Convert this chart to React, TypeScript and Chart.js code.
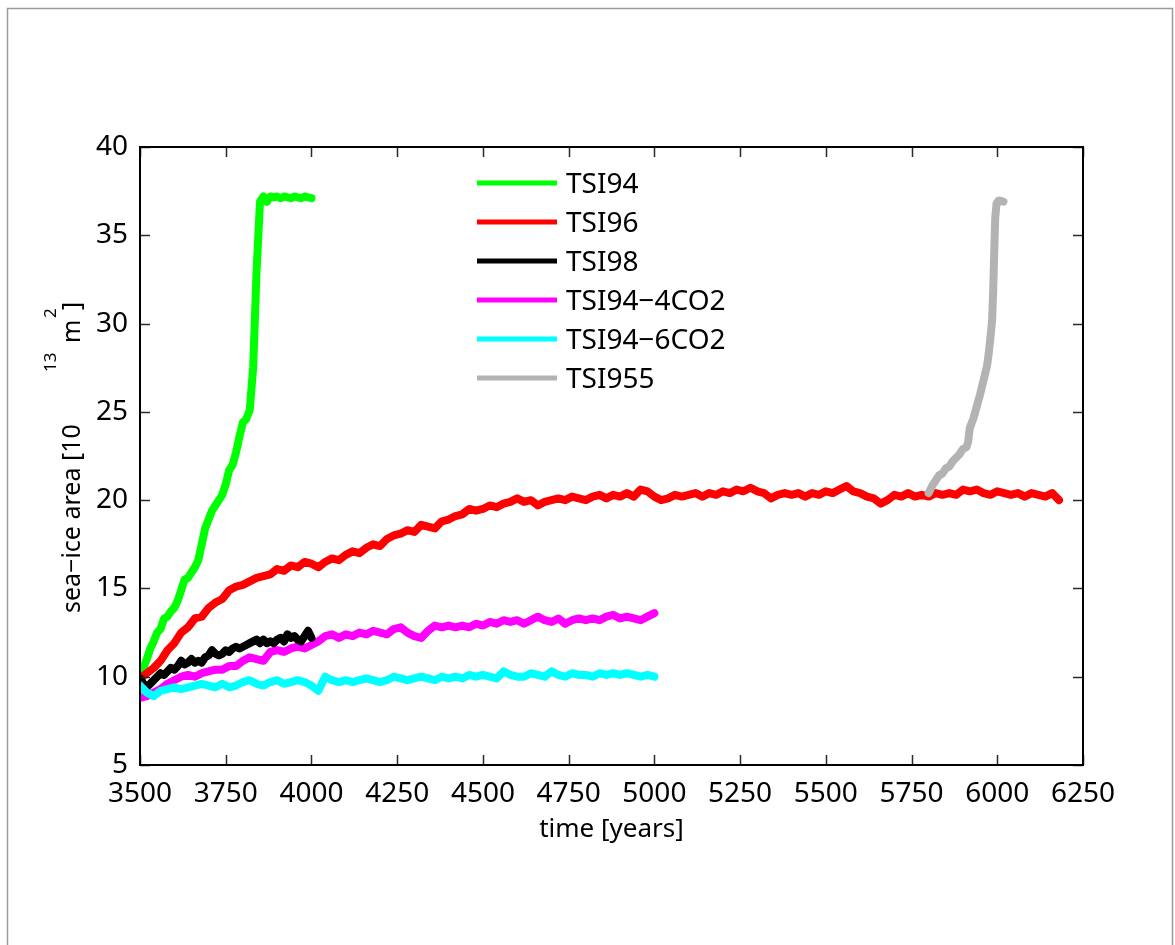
import React, { useEffect, useRef } from "react";
import { Chart, registerables } from "chart.js";

Chart.register(...registerables);

// ---------- data ----------
const X_TICKS = [3500, 3750, 4000, 4250, 4500, 4750, 5000, 5250, 5500, 5750, 6000, 6250];
const Y_TICKS = [5, 10, 15, 20, 25, 30, 35, 40];

const SERIES_NAMES = ["TSI94", "TSI96", "TSI98", "TSI94\u22124CO2", "TSI94\u22126CO2", "TSI955"];
const SERIES_COLORS = ["#00ff00", "#ff0000", "#000000", "#ff00ff", "#00ffff", "#b3b3b3"];

// TSI94: 3500..4000 every 10 years
const TSI94_START = 3500;
const TSI94_STEP = 10;
const TSI94_VALUES = [
  10.0, 10.5, 11.0, 11.6, 12.0, 12.5, 12.7, 13.3, 13.4, 13.7,
  13.9, 14.3, 14.9, 15.5, 15.6, 15.9, 16.2, 16.6, 17.5, 18.4,
  18.9, 19.4, 19.7, 20.0, 20.3, 20.9, 21.7, 22.0, 22.7, 23.6,
  24.4, 24.6, 25.1, 27.5, 33.0, 36.9, 37.2, 36.9, 37.2, 37.15,
  37.2, 37.1, 37.2, 37.15, 37.1, 37.2, 37.15, 37.1, 37.2, 37.15,
  37.1,
];

// TSI96: 3500..6180 every 20 years
const TSI96_START = 3500;
const TSI96_STEP = 20;
const TSI96_VALUES = [
  9.9, 10.2, 10.5, 10.9, 11.5, 11.9, 12.5, 12.8, 13.3, 13.4,
  13.9, 14.2, 14.4, 14.9, 15.1, 15.2, 15.4, 15.6, 15.7, 15.8,
  16.1, 16.0, 16.3, 16.2, 16.5, 16.4, 16.2, 16.5, 16.7, 16.6,
  16.9, 17.1, 17.0, 17.3, 17.5, 17.4, 17.8, 18.0, 18.1, 18.3,
  18.2, 18.6, 18.5, 18.4, 18.8, 18.9, 19.1, 19.2, 19.5, 19.4,
  19.5, 19.7, 19.6, 19.8, 19.9, 20.1, 19.9, 20.0, 19.7, 19.9,
  20.0, 20.1, 20.0, 20.2, 20.1, 20.0, 20.2, 20.3, 20.1, 20.3,
  20.2, 20.4, 20.2, 20.6, 20.5, 20.2, 20.0, 20.1, 20.3, 20.2,
  20.3, 20.4, 20.2, 20.4, 20.3, 20.5, 20.4, 20.6, 20.5, 20.7,
  20.5, 20.4, 20.1, 20.3, 20.4, 20.3, 20.4, 20.2, 20.4, 20.3,
  20.5, 20.4, 20.6, 20.8, 20.5, 20.4, 20.2, 20.1, 19.8, 20.0,
  20.3, 20.2, 20.4, 20.2, 20.3, 20.2, 20.4, 20.3, 20.4, 20.3,
  20.6, 20.5, 20.6, 20.4, 20.3, 20.5, 20.4, 20.3, 20.4, 20.2,
  20.4, 20.3, 20.2, 20.4, 20.0,
];

// TSI98: 3500..4000 every 10 years
const TSI98_START = 3500;
const TSI98_STEP = 10;
const TSI98_VALUES = [
  9.9, 9.6, 9.4, 9.6, 9.8, 10.0, 10.2, 10.1, 10.3, 10.5,
  10.4, 10.6, 10.9, 10.7, 10.8, 11.0, 10.8, 10.9, 10.8, 11.1,
  11.2, 11.5, 11.3, 11.2, 11.3, 11.5, 11.4, 11.6, 11.7, 11.6,
  11.7, 11.8, 11.9, 12.0, 12.1, 11.9, 12.1, 11.9, 12.0, 11.9,
  12.1, 12.2, 12.0, 12.4, 12.2, 12.3, 12.1, 12.0, 12.3, 12.6,
  12.2,
];

// TSI94-4CO2: 3500..5000 every 20 years
const TSI94_4CO2_START = 3500;
const TSI94_4CO2_STEP = 20;
const TSI94_4CO2_VALUES = [
  8.8, 8.9, 9.1, 9.3, 9.6, 9.8, 10.0, 10.1, 10.0, 10.2,
  10.3, 10.4, 10.4, 10.6, 10.6, 10.9, 11.1, 11.0, 10.9, 11.4,
  11.5, 11.4, 11.6, 11.7, 11.6, 11.8, 12.0, 12.3, 12.4, 12.2,
  12.4, 12.3, 12.5, 12.4, 12.6, 12.5, 12.4, 12.7, 12.8, 12.5,
  12.3, 12.2, 12.6, 12.9, 12.8, 12.9, 12.8, 12.9, 12.8, 13.0,
  12.9, 13.1, 13.0, 13.2, 13.1, 13.2, 13.0, 13.2, 13.4, 13.2,
  13.1, 13.3, 13.0, 13.2, 13.3, 13.2, 13.3, 13.2, 13.4, 13.5,
  13.3, 13.4, 13.3, 13.2, 13.4, 13.6,
];

// TSI94-6CO2: 3500..5000 every 20 years
const TSI94_6CO2_START = 3500;
const TSI94_6CO2_STEP = 20;
const TSI94_6CO2_VALUES = [
  9.5, 9.1, 8.9, 9.2, 9.3, 9.4, 9.3, 9.4, 9.5, 9.6,
  9.5, 9.4, 9.6, 9.4, 9.5, 9.7, 9.8, 9.6, 9.5, 9.7,
  9.8, 9.6, 9.7, 9.8, 9.7, 9.5, 9.2, 10.0, 9.8, 9.7,
  9.8, 9.7, 9.8, 9.9, 9.8, 9.7, 9.8, 10.0, 9.9, 9.8,
  9.9, 10.0, 9.9, 9.8, 10.0, 9.9, 10.0, 9.9, 10.1, 10.0,
  10.1, 10.0, 9.9, 10.3, 10.1, 10.0, 10.0, 10.2, 10.1, 10.0,
  10.3, 10.1, 10.0, 10.2, 10.1, 10.1, 10.0, 10.2, 10.1, 10.2,
  10.1, 10.2, 10.1, 10.0, 10.1, 10.0,
];

// TSI955: irregular years
const TSI955_YEARS = [
  5800, 5810, 5820, 5830, 5840, 5850, 5860, 5870, 5880, 5890,
  5900, 5910, 5915, 5920, 5930, 5940, 5950, 5960, 5970, 5975,
  5980, 5985, 5988, 5991, 5994, 5998, 6003, 6010, 6018,
];
const TSI955_VALUES = [
  20.4, 20.8, 21.1, 21.4, 21.5, 21.8, 21.9, 22.2, 22.4, 22.6,
  22.9, 23.0, 23.3, 24.1, 24.6, 25.3, 26.0, 26.8, 27.6, 28.3,
  29.2, 30.2, 31.8, 34.0, 36.0, 36.8, 36.95, 36.95, 36.9,
];

// ---------- helpers ----------
const FONT = '"Noto Sans", "Open Sans", sans-serif';

function stepSeries(start: number, step: number, values: number[]) {
  return values.map((v, i) => ({ x: start + i * step, y: v }));
}
function pairSeries(years: number[], values: number[]) {
  return values.map((v, i) => ({ x: years[i], y: v }));
}

const SERIES_DATA = [
  stepSeries(TSI94_START, TSI94_STEP, TSI94_VALUES),
  stepSeries(TSI96_START, TSI96_STEP, TSI96_VALUES),
  stepSeries(TSI98_START, TSI98_STEP, TSI98_VALUES),
  stepSeries(TSI94_4CO2_START, TSI94_4CO2_STEP, TSI94_4CO2_VALUES),
  stepSeries(TSI94_6CO2_START, TSI94_6CO2_STEP, TSI94_6CO2_VALUES),
  pairSeries(TSI955_YEARS, TSI955_VALUES),
];
// drawing order (lower = on top)
const SERIES_ORDER = [4, 3, 2, 5, 1, 0];

const decorPlugin = {
  id: "decor",
  beforeDraw(chart: any) {
    const ctx = chart.ctx;
    ctx.save();
    ctx.fillStyle = "#ffffff";
    ctx.fillRect(0, 0, chart.width, chart.height);
    ctx.strokeStyle = "#9a9a9a";
    ctx.lineWidth = 1.5;
    ctx.strokeRect(7.5, 8.5, 1165, 1000);
    ctx.restore();
  },
  afterDatasetsDraw(chart: any) {
    const ctx = chart.ctx;
    const a = chart.chartArea;
    const xs = chart.scales.x;
    const ys = chart.scales.y;
    ctx.save();
    // inward tick marks on all four sides
    ctx.strokeStyle = "#2a2a2a";
    ctx.lineWidth = 1.5;
    const L = 10;
    ctx.beginPath();
    xs.ticks.forEach((t: any) => {
      const px = Math.round(xs.getPixelForValue(t.value)) + 0.5;
      ctx.moveTo(px, a.bottom);
      ctx.lineTo(px, a.bottom - L);
      ctx.moveTo(px, a.top);
      ctx.lineTo(px, a.top + L);
    });
    ys.ticks.forEach((t: any) => {
      const py = Math.round(ys.getPixelForValue(t.value)) + 0.5;
      ctx.moveTo(a.left, py);
      ctx.lineTo(a.left + L, py);
      ctx.moveTo(a.right, py);
      ctx.lineTo(a.right - L, py);
    });
    ctx.stroke();
    // axes box
    ctx.strokeStyle = "#000000";
    ctx.lineWidth = 2;
    ctx.strokeRect(a.left, a.top, a.right - a.left, a.bottom - a.top);

    // legend
    const ds = chart.data.datasets;
    ctx.font = `28px ${FONT}`;
    ctx.textAlign = "left";
    ctx.textBaseline = "middle";
    ds.forEach((d: any, i: number) => {
      const y = a.top + 36 + i * 39;
      ctx.strokeStyle = d.borderColor;
      ctx.lineWidth = 5;
      ctx.lineCap = "butt";
      ctx.beginPath();
      ctx.moveTo(a.left + 337, y);
      ctx.lineTo(a.left + 417, y);
      ctx.stroke();
      ctx.fillStyle = "#000000";
      ctx.fillText(d.label, a.left + 426, y + 2);
    });

    // x-axis title
    ctx.font = `26px ${FONT}`;
    ctx.textAlign = "center";
    ctx.textBaseline = "alphabetic";
    ctx.fillText("time [years]", (a.left + a.right) / 2, 837);

    // y-axis title with superscripts
    ctx.translate(80, 613);
    ctx.rotate(-Math.PI / 2);
    ctx.textAlign = "left";
    ctx.font = `25px ${FONT}`;
    ctx.fillText("sea\u2212ice area [10", 0, 0);
    ctx.fillText("m", 270, 0);
    ctx.fillText("]", 303, 0);
    ctx.font = `17px ${FONT}`;
    ctx.fillText("13", 241, -24);
    ctx.fillText("2", 295, -24);
    ctx.restore();
  },
};

export default function App() {
  const canvasRef = useRef<HTMLCanvasElement | null>(null);

  useEffect(() => {
    if (!canvasRef.current) return;
    const chart = new Chart(canvasRef.current, {
      type: "line",
      data: {
        datasets: SERIES_DATA.map((data, i) => ({
          label: SERIES_NAMES[i],
          data,
          borderColor: SERIES_COLORS[i],
          backgroundColor: SERIES_COLORS[i],
          borderWidth: 8,
          pointRadius: 0,
          tension: 0,
          fill: false,
          borderJoinStyle: "round",
          borderCapStyle: "round",
          order: SERIES_ORDER[i],
          clip: 0,
        })),
      },
      options: {
        animation: false,
        responsive: false,
        devicePixelRatio: 1,
        layout: { padding: { left: 40, top: 147, right: 92, bottom: 100 } },
        plugins: {
          legend: { display: false },
          tooltip: { enabled: false },
          title: { display: false },
        },
        scales: {
          x: {
            type: "linear",
            min: 3500,
            max: 6250,
            grid: { display: false, drawTicks: false },
            border: { display: false },
            afterBuildTicks: (s: any) => {
              s.ticks = X_TICKS.map((v) => ({ value: v }));
            },
            afterFit: (s: any) => {
              s.height = 80;
            },
            ticks: {
              autoSkip: false,
              maxRotation: 0,
              padding: 12,
              color: "#000000",
              font: { family: FONT, size: 28 },
              callback: (v: any) => String(v),
            },
          },
          y: {
            type: "linear",
            min: 5,
            max: 40,
            grid: { display: false, drawTicks: false },
            border: { display: false },
            afterBuildTicks: (s: any) => {
              s.ticks = Y_TICKS.map((v) => ({ value: v }));
            },
            afterFit: (s: any) => {
              s.width = 100;
            },
            ticks: {
              autoSkip: false,
              padding: 12,
              color: "#000000",
              font: { family: FONT, size: 28 },
              callback: (v: any) => String(v),
            },
          },
        },
      },
      plugins: [decorPlugin],
    });
    return () => chart.destroy();
  }, []);

  return (
    <div style={{ position: "fixed", left: 0, top: 0, width: 1175, height: 945, background: "#fff" }}>
      <canvas ref={canvasRef} width={1175} height={945} style={{ width: 1175, height: 945, display: "block" }} />
    </div>
  );
}
